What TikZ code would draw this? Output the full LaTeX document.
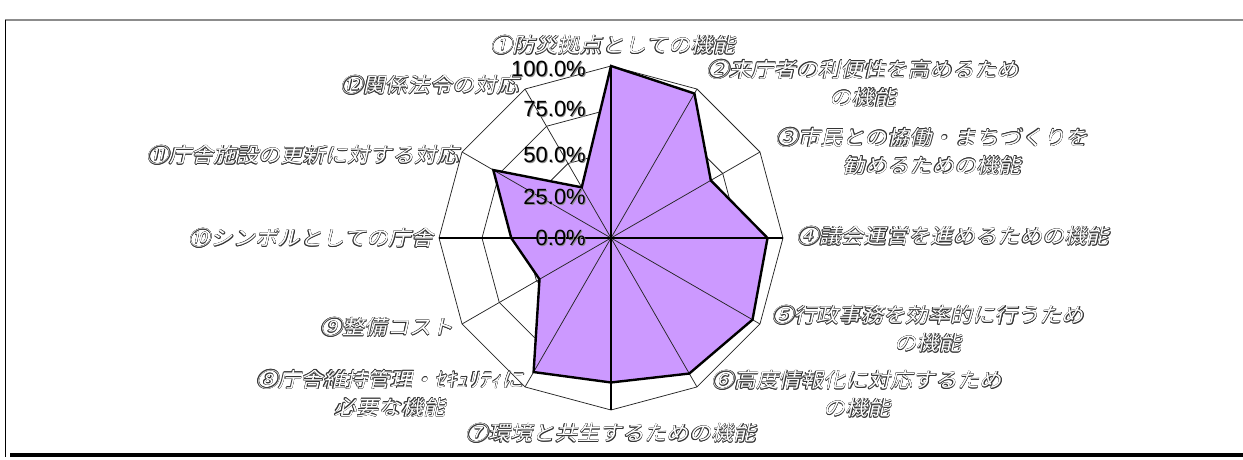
\documentclass[tikz,border=0pt]{standalone}
\usepackage{fontspec}
\setmainfont{Liberation Sans}
\newfontfamily\jp[FakeSlant=0.22,FakeStretch=1.1]{Noto Sans CJK JP}
\definecolor{fillp}{HTML}{CC99FF}
\newcommand\hoff[3]{\rlap{\kern#1\raise#2\hbox{\color{black!80}#3}}}
\newcommand\hol[1]{\leavevmode\hoff{.45pt}{0pt}{#1}\hoff{-.45pt}{0pt}{#1}\hoff{0pt}{.45pt}{#1}\hoff{0pt}{-.45pt}{#1}\hoff{.32pt}{.32pt}{#1}\hoff{-.32pt}{.32pt}{#1}\hoff{.32pt}{-.32pt}{#1}\hoff{-.32pt}{-.32pt}{#1}{\color{white}#1}}
\newcommand\shd[1]{\leavevmode\rlap{\kern.9pt\raise-.9pt\hbox{\color{black!45}#1}}#1}
\begin{document}
\begin{tikzpicture}[x=1pt,y=1pt,
  lab/.style={font=\jp\fontsize{20.3}{28}\selectfont, inner sep=0pt, align=center},
  tick/.style={font=\fontsize{22}{22}\selectfont, anchor=east, inner sep=0pt},
  grid/.style={line width=0.75pt, black!85},
  axisline/.style={line width=1.8pt, black},
  series/.style={line width=2.4pt, black, line join=miter}]
\useasboundingbox (0,0) rectangle (1243,460);
% frame
\draw[line width=1.5pt, black!45] (5,440) -- (1243,440);
\draw[line width=1.3pt, black] (5.6,440) -- (5.6,3);
\draw[line width=4.5pt, black] (10,5) -- (1243,5);
\begin{scope}[shift={(611,222)}]
  \coordinate (O) at (0,0);
  % rings
  \foreach \r in {43,86,129,172}
    \draw[grid] (90:\r) \foreach \i in {1,...,11}{ -- ({90-30*\i}:\r)} -- cycle;
  % data points
  \foreach \v [count=\i] in {1,.97,.67,.91,.95,.91,.84,.90,.48,.58,.79,.34}
    \coordinate (p\i) at ({90-30*(\i-1)}:{\v*172});
  \fill[fillp] (p1) -- (p2) -- (p3) -- (p4) -- (p5) -- (p6) -- (p7) -- (p8) -- (p9) -- (p10) -- (p11) -- (p12) -- cycle;
  % spokes
  \foreach \i in {1,...,12}
    \coordinate (s\i) at ({90-30*(\i-1)}:172);
  \foreach \i in {2,3,5,6,8,9,11,12}
    \draw[grid] (O) -- (s\i);
  \draw[axisline] (s10) -- (s4);
  \draw[axisline] (s7) -- (s1);
  \draw[series] (p1) -- (p2) -- (p3) -- (p4) -- (p5) -- (p6) -- (p7) -- (p8) -- (p9) -- (p10) -- (p11) -- (p12) -- cycle;
  % tick labels
  \node[tick] (t100) at (-25,169) {\shd{100.0\%}};
  \node[tick] (t75) at (-25,129) {\shd{75.0\%}};
  \node[tick] (t50) at (-25,83) {\shd{50.0\%}};
  \node[tick] (t25) at (-25,41) {\shd{25.0\%}};
  \node[tick] (t0) at (-25,0) {\shd{0.0\%}};
  % category labels
  \node[lab] (c1) at (2,193) {\hol{①防災拠点としての機能}};
  \node[lab] (c2) at (252,154.5) {\hol{②来庁者の利便性を高めるため}\\\hol{の機能}};
  \node[lab] (c3) at (321,86.5) {\hol{③市民との協働・まちづくりを}\\\hol{勧めるための機能}};
  \node[lab] (c4) at (342,2) {\hol{④議会運営を進めるための機能}};
  \node[lab] (c5) at (317,-91) {\hol{⑤行政事務を効率的に行うため}\\\hol{の機能}};
  \node[lab] (c6) at (246,-156) {\hol{⑥高度情報化に対応するため}\\\hol{の機能}};
  \node[lab] (c7) at (0,-195) {\hol{⑦環境と共生するための機能}};
  \node[lab] (c8) at (-221,-155.5) {\hol{⑧庁舎維持管理・ｾｷｭﾘﾃｨに}\\\hol{必要な機能}};
  \node[lab] (c9) at (-224,-89) {\hol{⑨整備コスト}};
  \node[lab] (c10) at (-300,0) {\hol{⑩シンボルとしての庁舎}};
  \node[lab] (c11) at (-308,83) {\hol{⑪庁舎施設の更新に対する対応}};
  \node[lab] (c12) at (-181,153) {\hol{⑫関係法令の対応}};
\end{scope}
\end{tikzpicture}
\end{document}
